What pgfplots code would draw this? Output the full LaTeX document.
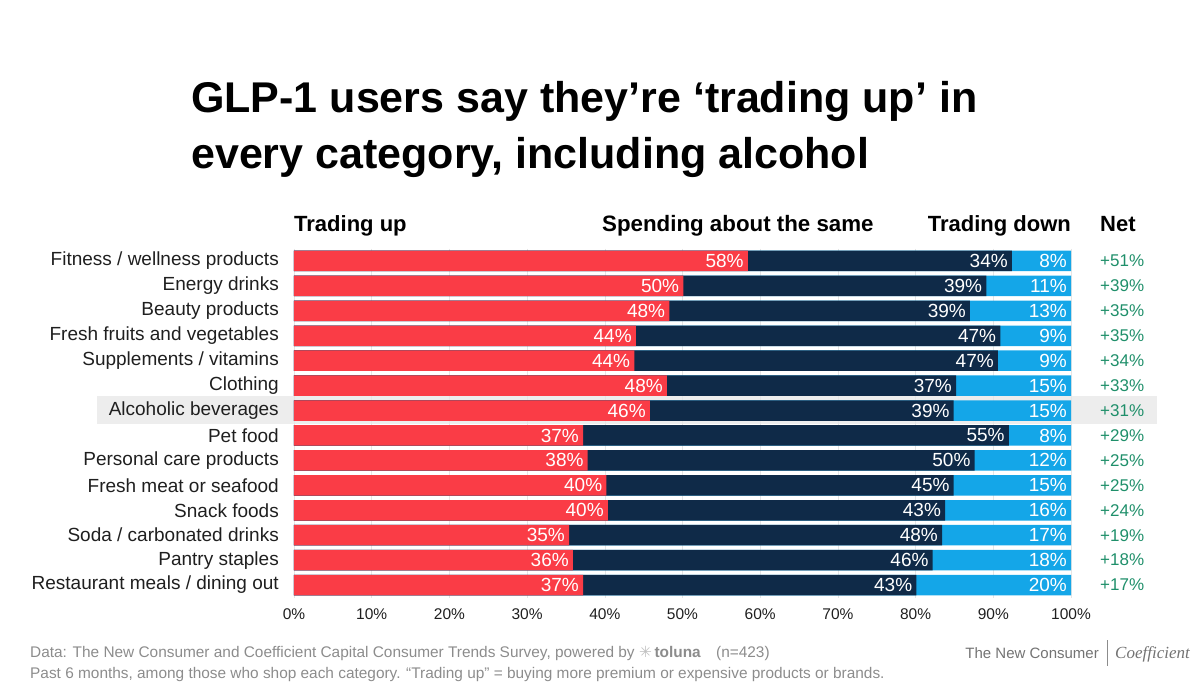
\documentclass[border=0pt]{standalone}
\usepackage{fontspec}
\setmainfont{Liberation Sans}
\newfontfamily\dejavu{DejaVu Sans}
\newfontfamily\libserif{Liberation Serif}
\usepackage{pgfplots}
\usepackage{pgfplotstable}
\pgfplotsset{compat=1.18}
\definecolor{upred}{HTML}{FA3C46}
\definecolor{samenavy}{HTML}{0F2A48}
\definecolor{downblue}{HTML}{14A6E8}
\definecolor{netgreen}{HTML}{1F8F6A}
\definecolor{foot}{HTML}{8C8C8C}
% up = end of "trading up" segment; upsame = end of "same" segment; total = 100
\pgfplotstableread{
y up upsame total uplab samelab downlab
0 58.4 92.4 100 58 34 8
1 50.1 89.1 100 50 39 11
2 48.3 87.0 100 48 39 13
3 44.0 90.9 100 44 47 9
4 43.8 90.6 100 44 47 9
5 48.0 85.2 100 48 37 15
6 45.8 84.9 100 46 39 15
7 37.2 92.0 100 37 55 8
8 37.8 87.6 100 38 50 12
9 40.2 84.9 100 40 45 15
10 40.4 83.8 100 40 43 16
11 35.4 83.4 100 35 48 17
12 35.9 82.2 100 36 46 18
13 37.2 80.1 100 37 43 20
}\data
\begin{document}
\begin{tikzpicture}
\path[use as bounding box] (0pt,0pt) rectangle (1200pt,-686pt);
% highlight band
\fill[black!7] (97pt,-396pt) rectangle (1157pt,-424pt);
% title
\node[anchor=base west, inner sep=0pt] at (191pt,-112pt) {\fontsize{43}{50}\selectfont\bfseries GLP-1 users say they’re ‘trading up’ in};
\node[anchor=base west, inner sep=0pt] at (191pt,-168pt) {\fontsize{43}{50}\selectfont\bfseries every category, including alcohol};
% headers
\node[anchor=base west, inner sep=0pt] at (294pt,-231pt) {\fontsize{22}{26}\selectfont\bfseries Trading up};
\node[anchor=base west, inner sep=0pt] at (602pt,-231pt) {\fontsize{22.3}{26}\selectfont\bfseries Spending about the same};
\node[anchor=base east, inner sep=0pt] at (1071pt,-231pt) {\fontsize{22}{26}\selectfont\bfseries Trading down};
\node[anchor=base west, inner sep=0pt] at (1100pt,-231pt) {\fontsize{22}{26}\selectfont\bfseries Net};
\begin{axis}[
  at={(294pt,-248.5pt)}, anchor=north west,
  scale only axis, width=777pt, height=349pt,
  xbar, bar width=20.5pt, bar shift=0pt,
  xmin=0, xmax=100, ymin=-0.5, ymax=13.5, y dir=reverse,
  ytick={0,...,13},
  yticklabels={Fitness / wellness products, Energy drinks, Beauty products, Fresh fruits and vegetables, Supplements / vitamins, Clothing, Alcoholic beverages, Pet food, Personal care products, Fresh meat or seafood, Snack foods, Soda / carbonated drinks, Pantry staples, Restaurant meals / dining out},
  xtick={0,10,...,100},
  xticklabel={\pgfmathprintnumber{\tick}\%},
  /pgf/number format/assume math mode=true,
  axis line style={draw=none}, major tick length=0pt,
  xmajorgrids, grid style={black!10, line width=0.6pt},
  yticklabel style={font=\fontsize{19}{22}\selectfont, text=black!88, inner sep=0pt, xshift=-15pt},
  xticklabel style={font=\fontsize{15.5}{18}\selectfont, text=black!88, yshift=-8pt},
  point meta=explicit symbolic,
  nodes near coords={\pgfplotspointmeta\%},
  nodes near coords style={anchor=east, text=white, font=\fontsize{19}{22}\selectfont, inner sep=0pt, xshift=-4pt},
  clip=false,
]
\addplot[fill=downblue, draw=none] table[x=total, y=y, meta=downlab] {\data};
\addplot[fill=samenavy, draw=none] table[x=upsame, y=y, meta=samelab] {\data};
\addplot[fill=upred, draw=none] table[x=up, y=y, meta=uplab] {\data};
\end{axis}
\begin{axis}[
  at={(294pt,-248.5pt)}, anchor=north west,
  scale only axis, width=777pt, height=349pt,
  xmin=0, xmax=100, ymin=-0.5, ymax=13.5, y dir=reverse,
  hide x axis, axis line style={draw=none}, major tick length=0pt,
  yticklabel pos=right,
  ytick={0,...,13},
  yticklabels={+51\%,+39\%,+35\%,+35\%,+34\%,+33\%,+31\%,+29\%,+25\%,+25\%,+24\%,+19\%,+18\%,+17\%},
  yticklabel style={anchor=west, inner sep=0pt, xshift=29pt, text=netgreen, font=\fontsize{17}{20}\selectfont},
]
\addplot[draw=none, mark=none] coordinates {(0,0) (1,1)};
\end{axis}
% footer
\node[anchor=base west, inner sep=0pt, text=foot] at (30pt,-657pt) {\fontsize{15.4}{18}\selectfont Data: The New Consumer and Coefficient Capital Consumer Trends Survey, powered by {\dejavu\color{black!25}✳}\,{\bfseries toluna}\quad(n=423)};
\node[anchor=base west, inner sep=0pt, text=foot] at (30pt,-678pt) {\fontsize{15.4}{18}\selectfont Past 6 months, among those who shop each category. “Trading up” = buying more premium or expensive products or brands.};
\node[anchor=base east, inner sep=0pt, text=black!55] at (1099pt,-658pt) {\fontsize{15}{18}\selectfont The New Consumer};
\draw[black!45, line width=0.8pt] (1107pt,-640pt) -- (1107pt,-666pt);
\node[anchor=base west, inner sep=0pt, text=black!55] at (1115pt,-658pt) {\fontsize{17}{20}\selectfont\libserif\itshape Coefficient};
\end{tikzpicture}
\end{document}
